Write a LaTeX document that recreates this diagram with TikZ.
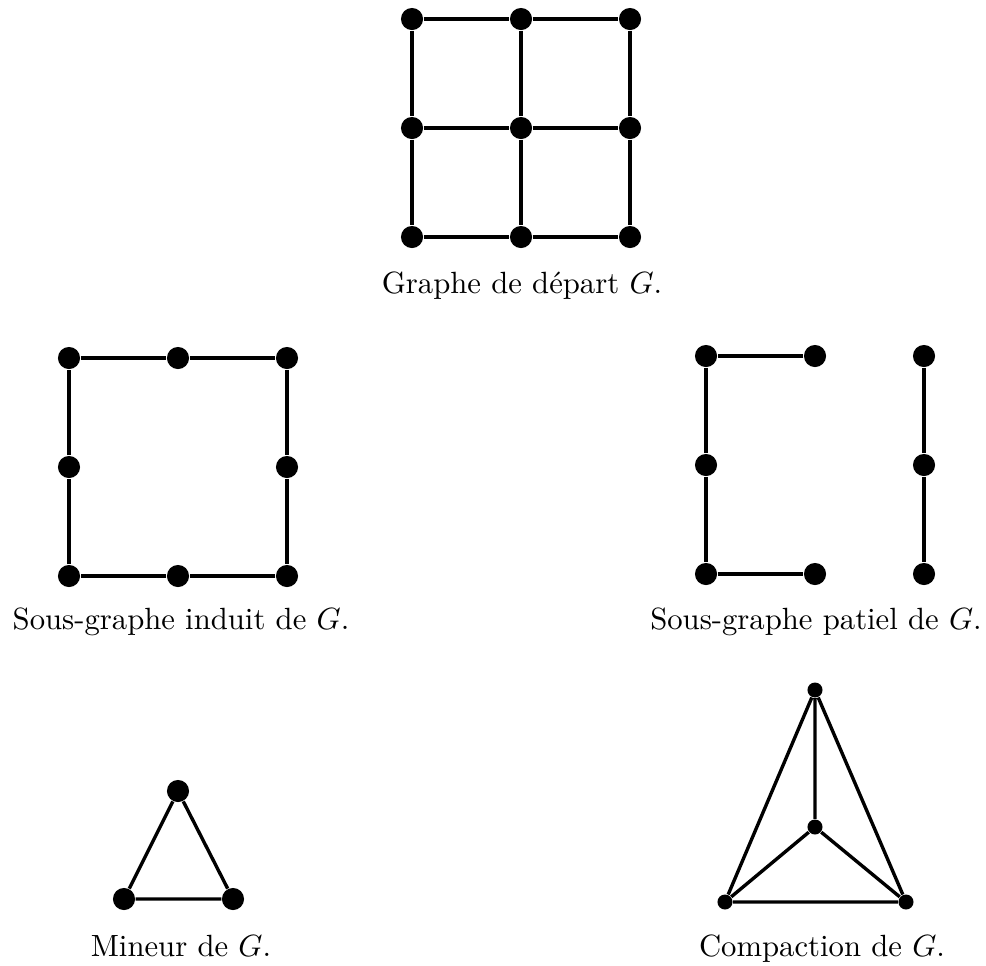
\documentclass[tikz,border=0pt]{standalone}
\begin{document}
\begin{tikzpicture}[x=0.3257pt,y=-0.3257pt,
  vbig/.style={circle,fill=black,inner sep=0pt,minimum size=7.2pt},
  vsmall/.style={circle,fill=black,inner sep=0pt,minimum size=4.9pt},
  edge/.style={line width=1.1pt},
  lab/.style={anchor=base,inner sep=0pt,font=\fontsize{10pt}{12pt}\selectfont}]
\useasboundingbox (0,0) rectangle (986,965);
% Graphe de depart
\foreach \i/\x in {1/412,2/521,3/630}{
  \foreach \j/\y in {1/19,2/128,3/237}{
    \node[vbig] (g\i\j) at (\x,\y) {};
  }
}
\draw[edge] (g11)--(g21)--(g31) (g12)--(g22)--(g32) (g13)--(g23)--(g33)
            (g11)--(g12)--(g13) (g21)--(g22)--(g23) (g31)--(g32)--(g33);
\node[lab] (lg) at (522,293) {Graphe de d\'epart $G$.};
% Sous-graphe induit
\foreach \i/\x in {1/69,2/178,3/287}{
  \foreach \j/\y in {1/358,2/467,3/576}{
    \ifnum\i=2 \ifnum\j=2 \else \node[vbig] (a\i\j) at (\x,\y) {}; \fi
    \else \node[vbig] (a\i\j) at (\x,\y) {}; \fi
  }
}
\draw[edge] (a11)--(a21)--(a31)--(a32)--(a33)--(a23)--(a13)--(a12)--(a11);
\node[lab] (la) at (181,629) {Sous-graphe induit de $G$.};
% Sous-graphe partiel
\node[vbig] (b11) at (706,356) {};
\node[vbig] (b21) at (815,356) {};
\node[vbig] (b31) at (924,356) {};
\node[vbig] (b12) at (706,465) {};
\node[vbig] (b32) at (924,465) {};
\node[vbig] (b13) at (706,574) {};
\node[vbig] (b23) at (815,574) {};
\node[vbig] (b33) at (924,574) {};
\draw[edge] (b21)--(b11)--(b12)--(b13)--(b23) (b31)--(b32)--(b33);
\node[lab] (lb) at (816,629) {Sous-graphe patiel de $G$.};
% Mineur
\node[vbig] (m1) at (178,791) {};
\node[vbig] (m2) at (124,899) {};
\node[vbig] (m3) at (233,899) {};
\draw[edge] (m1)--(m2)--(m3)--(m1);
\node[lab] (lm) at (181,956) {Mineur de $G$.};
% Compaction
\node[vsmall] (c1) at (815,690) {};
\node[vsmall] (c2) at (815,827) {};
\node[vsmall] (c3) at (725,902) {};
\node[vsmall] (c4) at (906,902) {};
\draw[edge] (c1)--(c2) (c1)--(c3) (c1)--(c4) (c2)--(c3) (c2)--(c4) (c3)--(c4);
\node[lab] (lc) at (822,956) {Compaction de $G$.};
\end{tikzpicture}
\end{document}
